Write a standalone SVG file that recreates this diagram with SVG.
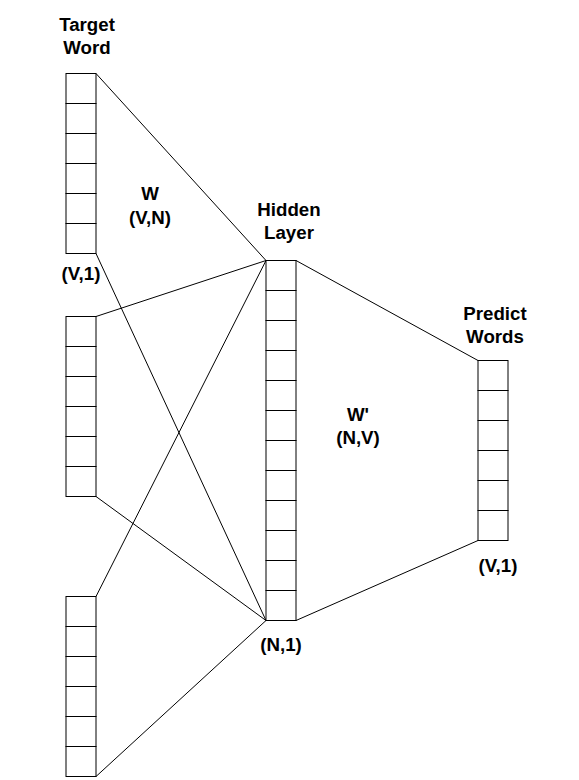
<svg xmlns="http://www.w3.org/2000/svg" width="579" height="780" viewBox="0 0 579 780">
<style>
.c{fill:#fff;stroke:#000;stroke-width:1}
.e{stroke:#000;stroke-width:1;fill:none}
.t{font-family:"Liberation Sans",Arial,sans-serif;font-weight:bold;font-size:18.7px;fill:#000;text-anchor:middle}
</style>
<defs>
<g id="cell"><rect class="c" x="0" y="0" width="30" height="30"/></g>
<g id="col6">
<use href="#cell" y="0"/><use href="#cell" y="30"/><use href="#cell" y="60"/>
<use href="#cell" y="90"/><use href="#cell" y="120"/><use href="#cell" y="150"/>
</g>
</defs>
<rect width="579" height="780" fill="#fff"/>
<g id="connectors">
<line class="e" x1="96" y1="73.5" x2="266" y2="260.5"/>
<line class="e" x1="96" y1="253.5" x2="266" y2="620.5"/>
<line class="e" x1="96" y1="316.5" x2="266" y2="260.5"/>
<line class="e" x1="96" y1="496.5" x2="266" y2="620.5"/>
<line class="e" x1="96" y1="596.5" x2="266" y2="260.5"/>
<line class="e" x1="96" y1="776.5" x2="266" y2="620.5"/>
<line class="e" x1="296" y1="260.5" x2="478" y2="360.5"/>
<line class="e" x1="296" y1="620.5" x2="478" y2="540.5"/>
</g>
<g id="target-word">
<use href="#col6" x="66" y="73.5"/>
<text class="t" x="87" y="31">Target</text>
<text class="t" x="87" y="54">Word</text>
<text class="t" x="81" y="280">(V,1)</text>
</g>
<g id="context-2">
<use href="#col6" x="66" y="316.5"/>
</g>
<g id="context-3">
<use href="#col6" x="66" y="596.5"/>
</g>
<g id="hidden-layer">
<use href="#col6" x="266" y="260.5"/>
<use href="#col6" x="266" y="440.5"/>
<text class="t" x="289" y="216">Hidden</text>
<text class="t" x="289" y="239">Layer</text>
<text class="t" x="281" y="651">(N,1)</text>
</g>
<g id="predict-words">
<use href="#col6" x="478" y="360.5"/>
<text class="t" x="495" y="320">Predict</text>
<text class="t" x="495" y="343">Words</text>
<text class="t" x="498" y="572">(V,1)</text>
</g>
<g id="w-label">
<text class="t" x="150" y="200">W</text>
<text class="t" x="150" y="224">(V,N)</text>
</g>
<g id="w-prime-label">
<text class="t" x="358" y="421">W'</text>
<text class="t" x="358" y="444">(N,V)</text>
</g>
</svg>
